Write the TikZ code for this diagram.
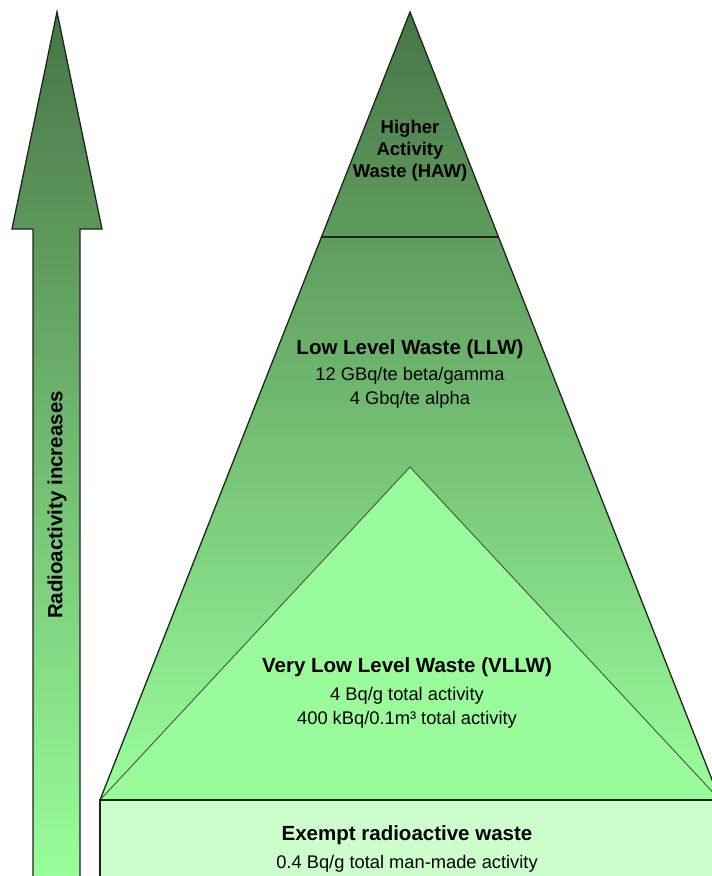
\documentclass[tikz,border=0pt]{standalone}
\usepackage{fontspec}
\setmainfont{Liberation Sans}
\definecolor{darktop}{HTML}{477547}
\definecolor{lightbot}{HTML}{9AFF9A}
\definecolor{vllwfill}{HTML}{99FB99}
\definecolor{exemptfill}{HTML}{CCFFCC}
\definecolor{edge}{HTML}{1C261C}
\tikzset{
  outline/.style={draw=edge, line width=1.3pt, line join=miter},
  thinedge/.style={draw=edge!80, line width=0.9pt},
  titletext/.style={font=\bfseries\fontsize{20.5}{24}\selectfont, anchor=base, inner sep=0pt},
  bodytext/.style={font=\fontsize{18.3}{22}\selectfont, anchor=base, inner sep=0pt},
  hawtext/.style={font=\bfseries\fontsize{18.5}{22}\selectfont, anchor=base, inner sep=0pt}
}
\begin{document}
\begin{tikzpicture}[x=1pt,y=-1pt]
\useasboundingbox (0,0) rectangle (712,876);
\clip (0,0) rectangle (712,876);
\fill[white] (0,0) rectangle (712,876);
% arrow
\draw[outline, top color=darktop, bottom color=lightbot]
  (57,12) -- (102,229) -- (80,229) -- (80,884) -- (33,884) -- (33,229) -- (12,229) -- cycle;
% main pyramid
\draw[outline, top color=darktop, bottom color=lightbot]
  (410,12) -- (720,800) -- (100,800) -- cycle;
\draw[outline] (321.5,237) -- (498.5,237);
% VLLW triangle
\draw[thinedge, fill=vllwfill] (410,467) -- (720,800) -- (100,800) -- cycle;
% exempt box
\fill[exemptfill] (100,800) rectangle (720,884);
\draw[outline] (100,884) -- (100,800) -- (720,800);
% texts
\node[hawtext] (haw1) at (410,133) {Higher};
\node[hawtext] (haw2) at (410,155) {Activity};
\node[hawtext] (haw3) at (410,177) {Waste (HAW)};
\node[titletext] (llw) at (410,354) {Low Level Waste (LLW)};
\node[bodytext] (llw1) at (410,380) {12 GBq/te beta/gamma};
\node[bodytext] (llw2) at (410,404) {4 Gbq/te alpha};
\node[titletext] (vllw) at (407,672) {Very Low Level Waste (VLLW)};
\node[bodytext] (vllw1) at (407,700) {4 Bq/g total activity};
\node[bodytext] (vllw2) at (407,724) {400 kBq/0.1m³ total activity};
\node[titletext] (ex) at (407,840) {Exempt radioactive waste};
\node[bodytext] (ex1) at (407,868) {0.4 Bq/g total man-made activity};
\node[font=\bfseries\fontsize{20.5}{24}\selectfont, rotate=90, inner sep=0pt] (ra) at (57,505) {Radioactivity increases};
\end{tikzpicture}
\end{document}
